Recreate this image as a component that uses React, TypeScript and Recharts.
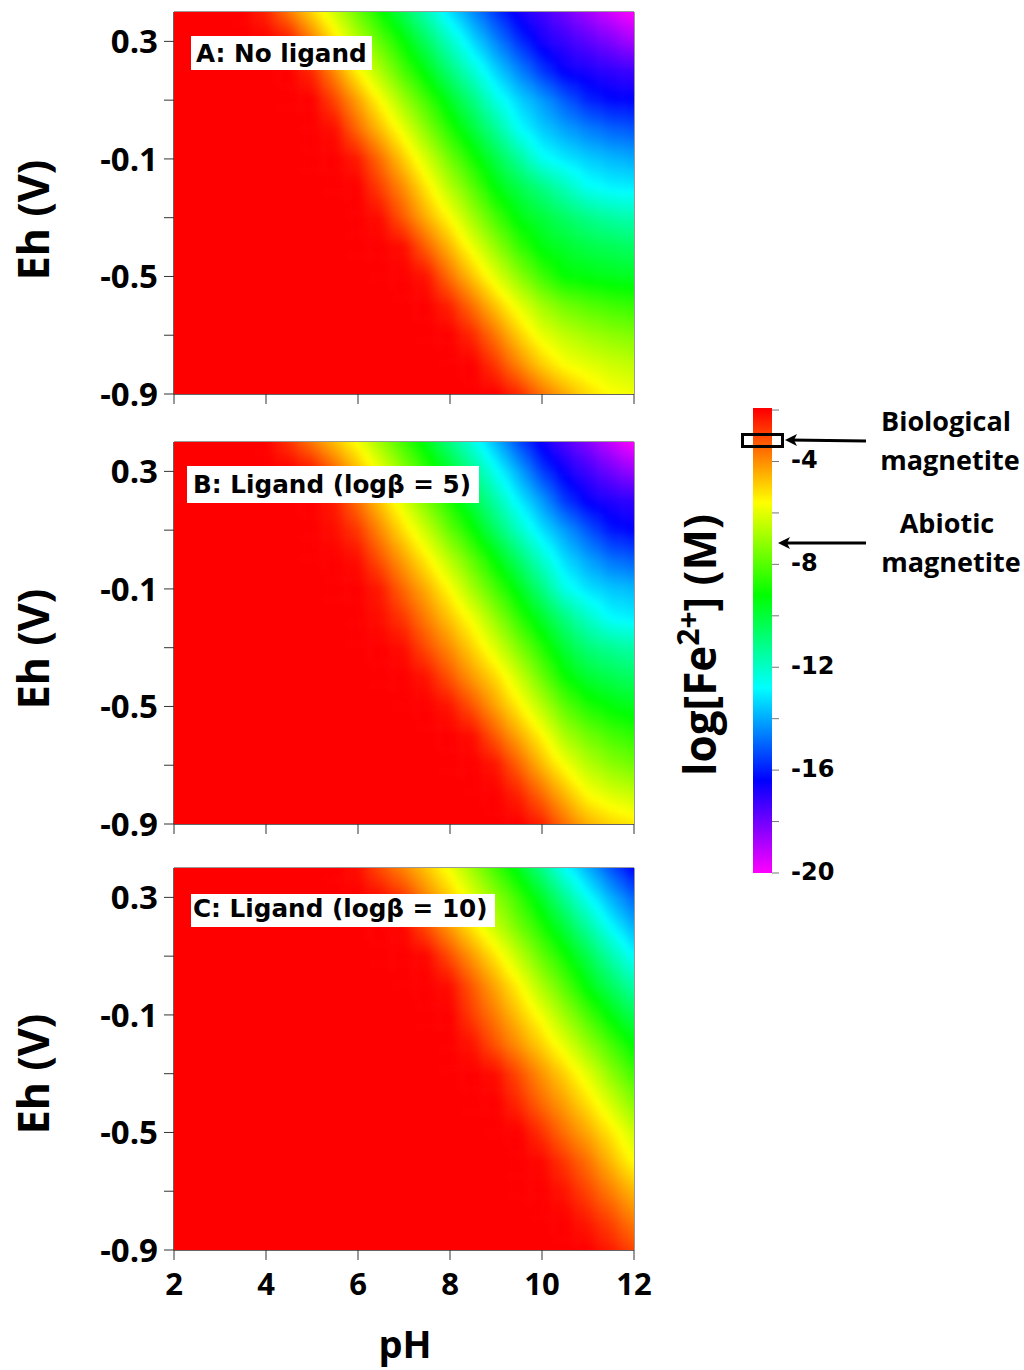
import React from "react";
import {
  ScatterChart, Scatter, XAxis, YAxis, ReferenceArea, BarChart, Bar,
} from "recharts";

// ---- axes -----------------------------------------------------------------
const phValues = [2, 2.5, 3, 3.5, 4, 4.5, 5, 5.5, 6, 6.5, 7, 7.5, 8, 8.5, 9, 9.5, 10, 10.5, 11, 11.5, 12];
const ehValues = [0.4, 0.3, 0.2, 0.1, 0, -0.1, -0.2, -0.3, -0.4, -0.5, -0.6, -0.7, -0.8, -0.9];
const phTicks = [2, 4, 6, 8, 10, 12];
const ehTicks = [-0.9, -0.7, -0.5, -0.3, -0.1, 0.1, 0.3];
const ehLabelled = [-0.9, -0.5, -0.1, 0.3];
const saturated = -2; // log[Fe2+] left of each listed tail (pure red plateau)

// ---- log[Fe2+], each row lists the non saturated tail, ending at pH 12 ------
const panelA = [
  [-2.5,-3.7,-5,-6.3,-7.7,-9.05,-10.4,-11.8,-13.2,-14.4,-15.6,-16.7,-17.3,-18,-18.7,-19.4,-20],
  [-2.3,-3.7,-5.2,-6.6,-7.9,-9.2,-10.6,-12,-13.3,-14.5,-15.7,-16.7,-17.2,-17.7,-18.2,-18.8],
  [-2.6,-4,-5.5,-6.8,-8.2,-9.5,-10.9,-12.2,-13.4,-14.5,-15.6,-16.5,-16.8,-17.1,-17.3],
  [-3,-4.3,-5.65,-7,-8.3,-9.7,-11,-12.4,-13.4,-14.2,-15.1,-15.9,-16.3,-16.4],
  [-2.2,-3.5,-4.7,-5.9,-7.3,-8.7,-10,-11.3,-12.7,-13.5,-14.1,-14.6,-15,-15.2],
  [-2.4,-3.6,-4.9,-6.2,-7.6,-8.9,-10.2,-11.4,-12.6,-13.1,-13.5,-13.8,-14],
  [-2.9,-4,-5.3,-6.6,-7.9,-9.3,-10.2,-11,-11.8,-12.6,-12.9,-13],
  [-2.2,-3.3,-4.5,-5.6,-6.9,-8.2,-9.4,-10,-10.6,-11.1,-11.5,-11.7],
  [-2.2,-3.4,-4.6,-5.85,-7.1,-8.4,-9.4,-9.8,-10.2,-10.4,-10.6],
  [-2.3,-3.6,-4.8,-6,-7.2,-8.3,-9.2,-9.4,-9.6,-9.7],
  [-2.5,-3.6,-4.8,-5.9,-6.9,-7.6,-8,-8.3,-8.5],
  [-2.6,-3.7,-4.9,-5.9,-6.5,-6.9,-7.2,-7.4],
  [-2.8,-3.9,-4.9,-5.65,-6,-6.3,-6.5],
  [-2.6,-3.6,-4.4,-5.1,-5.6,-5.8],
];
const panelB = [
  [-2.7,-3.7,-4.7,-5.7,-7,-8.3,-9.6,-11,-12.4,-13.8,-15.3,-16.6,-17.5,-18.3,-19.2,-20],
  [-2.3,-3.4,-4.6,-5.85,-7.2,-8.5,-9.8,-11.2,-12.65,-14,-15.5,-16.6,-17.3,-18,-18.6],
  [-2.4,-3.6,-4.85,-6.1,-7.5,-8.8,-10.2,-11.6,-13,-14.2,-15.6,-16.5,-16.9,-17.1],
  [-2.2,-2.8,-4,-5.2,-6.4,-7.8,-9.1,-10.6,-12,-13.2,-14.2,-15.2,-16.1,-16.4],
  [-2.2,-3.2,-4.3,-5.4,-6.6,-7.9,-9.3,-10.7,-12.1,-13.3,-14.1,-14.8,-15.1],
  [-2.4,-3.5,-4.5,-5.6,-6.9,-8.2,-9.55,-11,-12.5,-13.2,-13.6,-13.8],
  [-2.2,-2.8,-3.8,-4.8,-5.8,-7.1,-8.5,-9.8,-11,-12,-12.8,-13],
  [-2.2,-3.1,-4,-5,-6.1,-7.4,-8.7,-10,-10.9,-11.3,-11.6],
  [-2.3,-3.2,-4.2,-5.1,-6.3,-7.7,-9.1,-9.9,-10.3,-10.6],
  [-2.3,-3.2,-4.3,-5.4,-6.6,-7.9,-8.8,-9.3,-9.6],
  [-2.2,-3.3,-4.4,-5.5,-6.8,-7.6,-8.2,-8.6],
  [-2.3,-3.4,-4.6,-5.7,-6.6,-7.2,-7.6],
  [-2.5,-3.5,-4.6,-5.6,-6.1,-6.4],
  [-2.5,-3.6,-4.5,-5,-5.3],
];
const panelC = [
  [-2.2,-3.1,-3.9,-4.8,-5.8,-7,-8.3,-9.6,-11.1,-12.7,-13.9,-15.2,-16.4],
  [-2.2,-2.8,-3.9,-4.9,-6,-7.2,-8.4,-9.8,-11.3,-12.7,-13.9,-15],
  [-2.1,-3.1,-4.2,-5.3,-6.4,-7.6,-8.8,-10.1,-11.5,-12.8,-13.9],
  [-2.1,-3.1,-4.2,-5.3,-6.5,-7.8,-9,-10.3,-11.6,-12.8],
  [-2.2,-3.3,-4.4,-5.5,-6.8,-8,-9.4,-10.5,-11.6],
  [-2.9,-3.8,-4.8,-5.8,-7,-8.2,-9.4,-10.4],
  [-2.3,-3.2,-4.1,-5,-6,-7.1,-8.2,-9.3],
  [-2.2,-3.1,-4.1,-5,-6,-7.2,-8.3],
  [-2.6,-3.5,-4.3,-5.2,-6.2,-7.3],
  [-2.7,-3.6,-4.4,-5.3,-6.3],
  [-2.1,-2.8,-3.6,-4.6,-5.6],
  [-2.3,-3,-3.8,-4.6],
  [-2.4,-3,-3.8],
  [-2.4,-3],
];

// ---- colour scale ----------------------------------------------------------
const scaleLevels = [-2, -5.6, -9.2, -12.8, -16.4, -20];
const scaleColors = [[255, 0, 0], [255, 255, 0], [0, 255, 0], [0, 255, 255], [0, 0, 255], [255, 0, 255]];
const scaleTicks = [-2, -4, -6, -8, -10, -12, -14, -16, -18, -20];
const scaleLabelled = [-4, -8, -12, -16, -20];
const scaleBar = [{ name: "log[Fe2+]", range: [-20, -1.92] }];

function rgb(c: number[]) {
  return `rgb(${c.map((x) => Math.round(x)).join(",")})`;
}
function colourOf(v: number) {
  const last = scaleLevels.length - 1;
  if (v >= scaleLevels[0]) return rgb(scaleColors[0]);
  if (v <= scaleLevels[last]) return rgb(scaleColors[last]);
  let i = 0;
  while (v < scaleLevels[i + 1]) i++;
  const t = (scaleLevels[i] - v) / (scaleLevels[i] - scaleLevels[i + 1]);
  return rgb(scaleColors[i].map((c, k) => c + (scaleColors[i + 1][k] - c) * t));
}
function toGrid(rows: number[][]) {
  return rows.map((row) =>
    phValues.map((_, j) => {
      const k = j - (phValues.length - row.length);
      return k >= 0 ? row[k] : saturated;
    })
  );
}
function toCells(grid: number[][]) {
  const out: { ph: number; eh: number; fe: number; r: number; j: number }[] = [];
  grid.forEach((row, r) => row.forEach((fe, j) => out.push({ ph: phValues[j], eh: ehValues[r], fe, r, j })));
  return out;
}

// ---- style constants -------------------------------------------------------
const PLOT_L = 174, PLOT_T = 12, PLOT_W = 460, PLOT_H = 382;
const CELL_W = PLOT_W / (phValues.length - 1);
const CELL_H = PLOT_H / (ehValues.length - 1);
const SUB_X = 6, SUB_Y = 7;
const SANS = "'Open Sans', sans-serif";
const DEJAVU = "'DejaVu Sans', sans-serif";

// Paints one grid value as a smooth shaded tile (shading between neighbouring values, as the original renderer does).
function makeCellShape(grid: number[][]) {
  const nr = grid.length, nc = grid[0].length;
  const at = (r: number, j: number) => grid[Math.max(0, Math.min(nr - 1, r))][Math.max(0, Math.min(nc - 1, j))];
  const shade = (fr: number, fj: number) => {
    const r0 = Math.floor(fr), j0 = Math.floor(fj), a = fr - r0, b = fj - j0;
    return (
      at(r0, j0) * (1 - a) * (1 - b) + at(r0, j0 + 1) * (1 - a) * b +
      at(r0 + 1, j0) * a * (1 - b) + at(r0 + 1, j0 + 1) * a * b
    );
  };
  return function CellShape(props: any) {
    const { cx, cy, payload } = props;
    const { r, j } = payload;
    const x0 = cx - CELL_W / 2, y0 = cy - CELL_H / 2;
    let flat = true;
    for (let dr = -1; dr <= 1; dr++) for (let dj = -1; dj <= 1; dj++) if (at(r + dr, j + dj) !== saturated) flat = false;
    if (flat) return <rect x={x0 - 0.5} y={y0 - 0.5} width={CELL_W + 1} height={CELL_H + 1} fill={colourOf(saturated)} />;
    const tiles = [];
    const w = CELL_W / SUB_X, h = CELL_H / SUB_Y;
    for (let a = 0; a < SUB_X; a++) {
      for (let b = 0; b < SUB_Y; b++) {
        const fj = j + (a + 0.5) / SUB_X - 0.5;
        const fr = r + (b + 0.5) / SUB_Y - 0.5;
        tiles.push(
          <rect key={`${a}-${b}`} x={x0 + a * w - 0.3} y={y0 + b * h - 0.3} width={w + 0.6} height={h + 0.6} fill={colourOf(shade(fr, fj))} />
        );
      }
    }
    return <g>{tiles}</g>;
  };
}

type PanelProps = {
  top: number; height: number; axisHeight: number; rows: number[][];
  ehY: number; showX: boolean;
};

function Panel(p: PanelProps) {
  const grid = toGrid(p.rows);
  return (
    <div style={{ position: "absolute", left: 0, top: p.top }} className="heat">
      <ScatterChart
        width={660}
        height={p.height}
        margin={{ left: 0, top: PLOT_T, right: 660 - PLOT_L - PLOT_W, bottom: 0 }}
      >
        <defs>
          <clipPath id="plotClip">
            <rect x={PLOT_L} y={PLOT_T} width={PLOT_W} height={PLOT_H} />
          </clipPath>
          <filter id="heatBlur" filterUnits="userSpaceOnUse" x={100} y={-60} width={620} height={560} colorInterpolationFilters="sRGB">
            <feGaussianBlur stdDeviation="2.2" />
          </filter>
        </defs>
        <XAxis
          type="number"
          dataKey="ph"
          domain={[2, 12]}
          ticks={phTicks}
          interval={0}
          height={p.axisHeight}
          stroke="#333"
          tickSize={10}
          tickMargin={13}
          tick={{ fill: "#000", fontFamily: SANS, fontWeight: 700, fontSize: 31 }}
          tickFormatter={(v: number) => (p.showX ? String(v) : "")}
        />
        <YAxis
          type="number"
          dataKey="eh"
          domain={[-0.9, 0.4]}
          ticks={ehTicks}
          interval={0}
          width={PLOT_L}
          stroke="#333"
          tickSize={10}
          tickMargin={6}
          tick={{ fill: "#000", fontFamily: SANS, fontWeight: 700, fontSize: 33 }}
          tickFormatter={(v: number) => (ehLabelled.includes(v) ? String(v) : "")}
        />
        <Scatter data={toCells(grid)} isAnimationActive={false} shape={makeCellShape(grid)} />
        <ReferenceArea x1={2} x2={12} y1={-0.9} y2={0.4} fill="none" stroke="#333" strokeWidth={1} />
        <text
          x={49}
          y={p.ehY}
          transform={`rotate(-90 49 ${p.ehY})`}
          textAnchor="middle"
          fontFamily={SANS}
          fontWeight={700}
          fontSize={43}
          fill="#000"
        >
          Eh (V)
        </text>
        {p.showX ? (
          <text x={405} y={502} textAnchor="middle" fontFamily={SANS} fontWeight={700} fontSize={38} fill="#000">
            pH
          </text>
        ) : null}
      </ScatterChart>
    </div>
  );
}

function ScaleBar() {
  return (
    <div style={{ position: "absolute", left: 640, top: 390 }}>
      <BarChart
        width={384}
        height={500}
        data={scaleBar}
        barCategoryGap={0}
        margin={{ left: 113, top: 18, right: 192, bottom: 17 }}
      >
        <defs>
          <linearGradient id="scaleGrad" x1="0" y1="0" x2="0" y2="1">
            {scaleLevels.map((lv, i) => (
              <stop key={lv} offset={(-1.92 - lv) / (-1.92 + 20)} stopColor={rgb(scaleColors[i])} />
            ))}
          </linearGradient>
        </defs>
        <XAxis dataKey="name" hide />
        <YAxis
          orientation="right"
          type="number"
          domain={[-20, -1.92]}
          ticks={scaleTicks}
          interval={0}
          width={60}
          axisLine={false}
          tickSize={7}
          tickMargin={12}
          tickLine={{ stroke: "#777" }}
          tick={{ fill: "#000", fontFamily: DEJAVU, fontWeight: 700, fontSize: 24, dy: -2 }}
          tickFormatter={(v: number) => (scaleLabelled.includes(v) ? String(v) : "")}
        />
        <Bar dataKey="range" fill="url(#scaleGrad)" isAnimationActive={false} />
        <text
          x={76}
          y={255}
          transform="rotate(-90 76 255)"
          textAnchor="middle"
          fontFamily={SANS}
          fontWeight={700}
          fontSize={44}
          fill="#000"
        >
          log[Fe<tspan dy={-17} fontSize={30}>2+</tspan><tspan dy={17}>] (M)</tspan>
        </text>
        <g fontFamily={SANS} fontWeight={700} fontSize={27} fill="#000" textAnchor="middle">
          <text x={306} y={41}>Biological</text>
          <text x={310} y={80}>magnetite</text>
          <text x={307} y={143}>Abiotic</text>
          <text x={311} y={182}>magnetite</text>
        </g>
      </BarChart>
    </div>
  );
}

const panelLabels = [
  { text: "A: No ligand", box: [191, 36, 181, 34], x: 196, y: 62 },
  { text: "B: Ligand (logβ = 5)", box: [187, 466, 292, 37], x: 193, y: 493 },
  { text: "C: Ligand (logβ = 10)", box: [191, 894, 304, 33], x: 193, y: 917 },
];

function Overlay() {
  return (
    <svg width={1024} height={1370} style={{ position: "absolute", left: 0, top: 0, pointerEvents: "none" }}>
      {panelLabels.map((l) => (
        <g key={l.text}>
          <rect x={l.box[0]} y={l.box[1]} width={l.box[2]} height={l.box[3]} fill="#fff" />
          <text x={l.x} y={l.y} fontFamily={DEJAVU} fontWeight={700} fontSize={24.7} fill="#000">{l.text}</text>
        </g>
      ))}
      <rect x={742.5} y={434.5} width={40} height={12} fill="none" stroke="#000" strokeWidth={3} />
      <line x1={866} y1={441} x2={790} y2={440} stroke="#000" strokeWidth={3} />
      <path d="M785,440 L797,434 L794,440 L797,446 Z" fill="#000" />
      <line x1={866} y1={543} x2={783} y2={543} stroke="#000" strokeWidth={3} />
      <path d="M778,543 L790,537 L787,543 L790,549 Z" fill="#000" />
    </svg>
  );
}

export default function App() {
  return (
    <div style={{ position: "absolute", left: 0, top: 0, width: 1024, height: 1370, background: "#fff", overflow: "hidden" }}>
      <style>{`.heat .recharts-scatter { filter: url(#heatBlur); clip-path: url(#plotClip); }`}</style>
      <Panel top={0} height={431} axisHeight={37} rows={panelA} ehY={220} showX={false} />
      <Panel top={430} height={431} axisHeight={37} rows={panelB} ehY={219} showX={false} />
      <Panel top={856} height={514} axisHeight={120} rows={panelC} ehY={218} showX={true} />
      <ScaleBar />
      <Overlay />
    </div>
  );
}
